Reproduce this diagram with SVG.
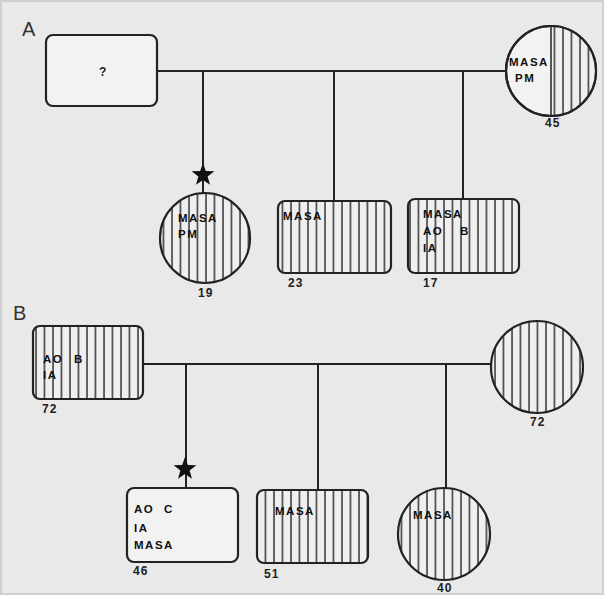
<svg xmlns="http://www.w3.org/2000/svg" width="604" height="595" viewBox="0 0 604 595">
<style>
.ln{stroke:#222;stroke-width:2;fill:none}
.nd{stroke:#222;stroke-width:2.2;fill:#f2f2f2}
.h{fill:url(#hatch)}
.ol{stroke:#222;stroke-width:2.2;fill:none}
.t{font-family:"Liberation Sans",Arial,sans-serif;font-weight:bold;font-size:11.5px;fill:#111;letter-spacing:1.5px}
.n{font-family:"Liberation Sans",Arial,sans-serif;font-weight:bold;font-size:12px;fill:#222;letter-spacing:1px}
.pl{font-family:"Liberation Sans",Arial,sans-serif;font-size:20px;fill:#333}
.star{fill:#111}
</style>
<defs>
<pattern id="hatch" patternUnits="userSpaceOnUse" width="8.5" height="10">
<rect width="8.5" height="10" fill="#efefef"/>
<line x1="2" y1="0" x2="2" y2="10" stroke="#333" stroke-width="1.5"/>
</pattern>
<path id="st" d="M0,-12 L2.8,-3.9 L11.4,-3.7 L4.6,1.5 L7,9.8 L0,4.9 L-7,9.8 L-4.6,1.5 L-11.4,-3.7 L-2.8,-3.9 Z"/>
</defs>
<rect x="0" y="0" width="604" height="595" fill="#e9e9e9"/>
<rect x="1" y="1" width="602" height="593" fill="none" stroke="#cfcfcf" stroke-width="2"/>

<text class="pl" x="22" y="36">A</text>
<text class="pl" x="13" y="320">B</text>

<g id="connectors">
<line class="ln" x1="157" y1="71" x2="507" y2="71"/>
<line class="ln" x1="203" y1="71" x2="203" y2="194"/>
<line class="ln" x1="334" y1="71" x2="334" y2="201"/>
<line class="ln" x1="463" y1="71" x2="463" y2="199"/>
<line class="ln" x1="143" y1="364" x2="491" y2="364"/>
<line class="ln" x1="186" y1="364" x2="186" y2="488"/>
<line class="ln" x1="318" y1="364" x2="318" y2="490"/>
<line class="ln" x1="446" y1="364" x2="446" y2="488"/>
<use href="#st" class="star" x="203" y="175"/>
<use href="#st" class="star" x="185" y="469"/>
</g>

<g id="nodeA1">
<rect class="nd" x="46" y="35" width="111" height="71" rx="7"/>
<text class="n" x="99" y="76">?</text>
</g>

<g id="nodeA45">
<circle class="nd" cx="551" cy="71" r="45"/>
<path class="h" d="M551 26 A45 45 0 0 1 551 116 Z"/>
<line x1="551" y1="26" x2="551" y2="116" stroke="#222" stroke-width="1.5"/>
<circle class="ol" cx="551" cy="71" r="45"/>
<text class="t" x="509" y="66">MASA</text>
<text class="t" x="515" y="82">PM</text>
<text class="n" x="545" y="127">45</text>
</g>

<g id="nodeA19">
<circle class="h" cx="205" cy="238" r="45"/>
<circle class="ol" cx="205" cy="238" r="45"/>
<text class="t" x="178" y="222">MASA</text>
<text class="t" x="178" y="238">PM</text>
<text class="n" x="198" y="297">19</text>
</g>

<g id="nodeA23">
<rect class="h" x="278" y="201" width="113" height="72" rx="7"/>
<rect class="ol" x="278" y="201" width="113" height="72" rx="7"/>
<text class="t" x="283" y="220">MASA</text>
<text class="n" x="288" y="287">23</text>
</g>

<g id="nodeA17">
<rect class="h" x="408" y="199" width="111" height="74" rx="7"/>
<rect class="ol" x="408" y="199" width="111" height="74" rx="7"/>
<text class="t" x="423" y="218">MASA</text>
<text class="t" x="423" y="235">AO</text>
<text class="t" x="460" y="235">B</text>
<text class="t" x="423" y="252">IA</text>
<text class="n" x="423" y="287">17</text>
</g>

<g id="nodeB72m">
<rect class="h" x="33" y="326" width="110" height="73" rx="7"/>
<rect class="ol" x="33" y="326" width="110" height="73" rx="7"/>
<text class="t" x="43" y="363">AO</text>
<text class="t" x="74" y="363">B</text>
<text class="t" x="43" y="379">IA</text>
<text class="n" x="42" y="413">72</text>
</g>

<g id="nodeB72f">
<circle class="h" cx="537" cy="367" r="46"/>
<circle class="ol" cx="537" cy="367" r="46"/>
<text class="n" x="530" y="426">72</text>
</g>

<g id="nodeB46">
<rect class="nd" x="127" y="488" width="111" height="74" rx="7"/>
<text class="t" x="134" y="513">AO</text>
<text class="t" x="164" y="513">C</text>
<text class="t" x="134" y="532">IA</text>
<text class="t" x="134" y="549">MASA</text>
<text class="n" x="133" y="575">46</text>
</g>

<g id="nodeB51">
<rect class="h" x="257" y="490" width="111" height="73" rx="7"/>
<rect class="ol" x="257" y="490" width="111" height="73" rx="7"/>
<text class="t" x="275" y="515">MASA</text>
<text class="n" x="264" y="578">51</text>
</g>

<g id="nodeB40">
<circle class="h" cx="444" cy="534" r="46"/>
<circle class="ol" cx="444" cy="534" r="46"/>
<text class="t" x="413" y="519">MASA</text>
<text class="n" x="437" y="592">40</text>
</g>
</svg>
